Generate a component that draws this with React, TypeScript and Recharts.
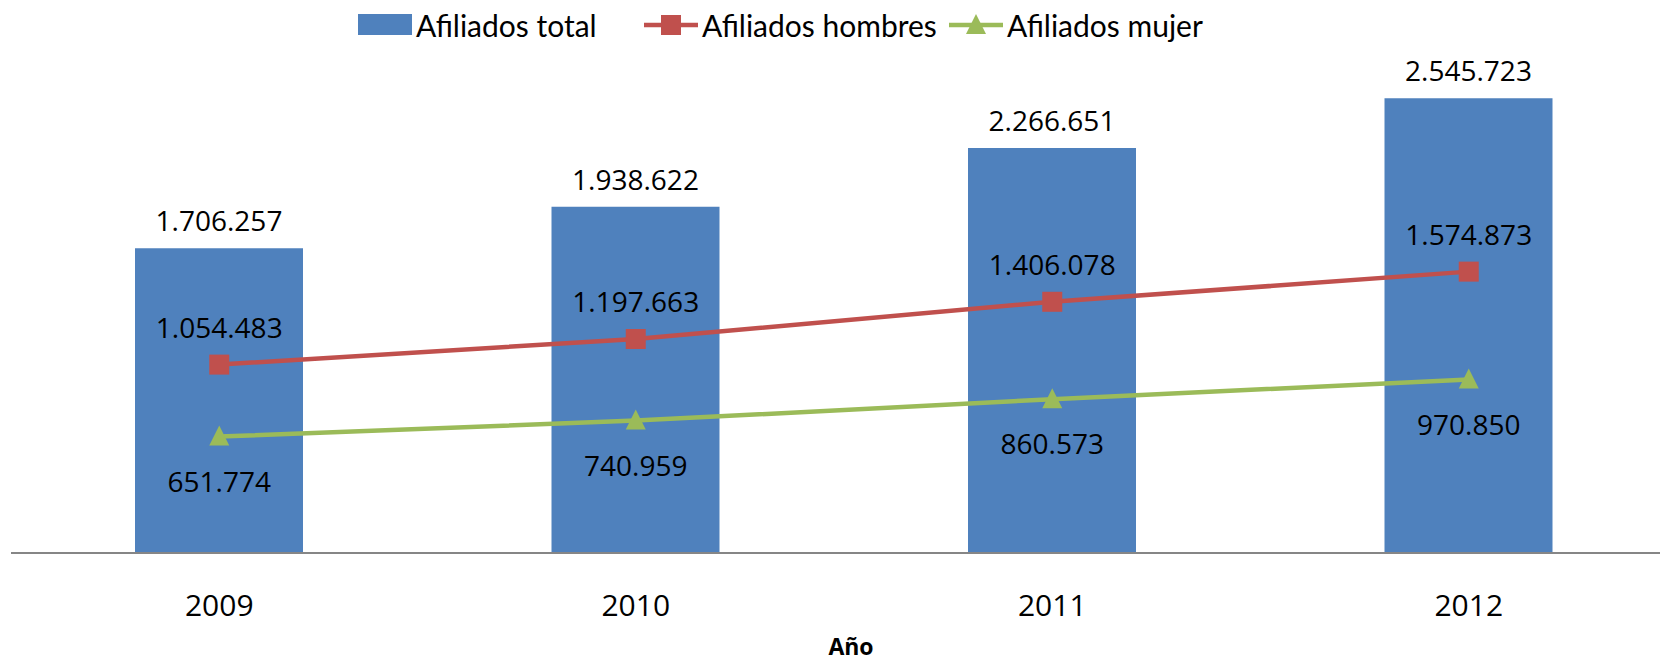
import { ComposedChart, Bar, Line, XAxis, YAxis, LabelList } from 'recharts';

const years = ['2009', '2010', '2011', '2012'];
const afiliadosTotal = [1706257, 1938622, 2266651, 2545723];
const afiliadosHombres = [1054483, 1197663, 1406078, 1574873];
const afiliadosMujer = [651774, 740959, 860573, 970850];

const data = years.map((year, i) => ({
  year,
  total: afiliadosTotal[i],
  hombres: afiliadosHombres[i],
  mujer: afiliadosMujer[i],
}));

const BLUE = '#4F81BD';
const RED = '#C0504D';
const GREEN = '#9BBB59';
const NUM_FONT = '"Open Sans", sans-serif';

const fmt = (v: number) => String(v).replace(/\B(?=(\d{3})+(?!\d))/g, '.');

const makeLabel = (dy: number) => (props: any) => {
  const { x, y, width, value } = props;
  const cx = width ? x + width / 2 : x;
  return (
    <text x={cx} y={y + dy} textAnchor="middle" dominantBaseline="central" fontFamily={NUM_FONT} fontSize={28} fill="#000">
      {fmt(value)}
    </text>
  );
};

const SquareDot = (props: any) => {
  const { cx, cy, index } = props;
  return <rect key={`sq-${index}`} x={cx - 10} y={cy - 10} width={20} height={20} fill={RED} />;
};

const TriangleDot = (props: any) => {
  const { cx, cy, index } = props;
  return <polygon key={`tr-${index}`} points={`${cx},${cy - 11} ${cx + 10},${cy + 9} ${cx - 10},${cy + 9}`} fill={GREEN} />;
};

const YearTick = (props: any) => {
  const { x, y, payload } = props;
  return (
    <text x={x} y={y + 51} textAnchor="middle" dominantBaseline="central" fontFamily={NUM_FONT} fontSize={30} fill="#000">
      {payload.value}
    </text>
  );
};

function LegendItem({ left, kind, color, label }: { left: number; kind: 'rect' | 'square' | 'triangle'; color: string; label: string }) {
  return (
    <div style={{ position: 'absolute', left, top: 8, display: 'flex', alignItems: 'center', height: 34 }}>
      <svg width={54} height={34}>
        {kind === 'rect' && <rect x={0} y={6} width={54} height={21} fill={color} />}
        {kind !== 'rect' && <line x1={0} y1={17} x2={54} y2={17} stroke={color} strokeWidth={4.5} />}
        {kind === 'square' && <rect x={17} y={7} width={20} height={20} fill={color} />}
        {kind === 'triangle' && <polygon points="27,6 37,26 17,26" fill={color} />}
      </svg>
      <span style={{ fontFamily: 'Lato, sans-serif', fontSize: 30, lineHeight: '34px', marginLeft: 4, color: '#000', whiteSpace: 'nowrap' }}>{label}</span>
    </div>
  );
}

export default function App() {
  return (
    <div style={{ position: 'relative', margin: '-8px 0 0 -8px', width: 1668, height: 664, overflow: 'hidden', background: '#fff' }}>
      <ComposedChart width={1680} height={664} data={data} margin={{ top: 17, right: 3, bottom: 0, left: 11 }}>
        <YAxis hide domain={[0, 3000000]} />
        <XAxis
          dataKey="year"
          height={111}
          tickSize={0}
          tickMargin={0}
          tickLine={false}
          axisLine={{ stroke: '#868686', strokeWidth: 2 }}
          tick={<YearTick />}
          label={({ viewBox }: any) => (
            <text x={viewBox.x + viewBox.width / 2 + 7} y={646} textAnchor="middle" dominantBaseline="central" fontFamily={NUM_FONT} fontWeight="bold" fontSize={23} fill="#000">
              Año
            </text>
          )}
        />
        <Bar dataKey="total" fill={BLUE} barSize={168} isAnimationActive={false}>
          <LabelList dataKey="total" content={makeLabel(-28)} />
        </Bar>
        <Line dataKey="hombres" stroke={RED} strokeWidth={4.5} dot={<SquareDot />} activeDot={false} isAnimationActive={false}>
          <LabelList dataKey="hombres" content={makeLabel(-38)} />
        </Line>
        <Line dataKey="mujer" stroke={GREEN} strokeWidth={4.5} dot={<TriangleDot />} activeDot={false} isAnimationActive={false}>
          <LabelList dataKey="mujer" content={makeLabel(44)} />
        </Line>
      </ComposedChart>
      <LegendItem left={358} kind="rect" color={BLUE} label="Afiliados total" />
      <LegendItem left={644} kind="square" color={RED} label="Afiliados hombres" />
      <LegendItem left={949} kind="triangle" color={GREEN} label="Afiliados mujer" />
    </div>
  );
}
